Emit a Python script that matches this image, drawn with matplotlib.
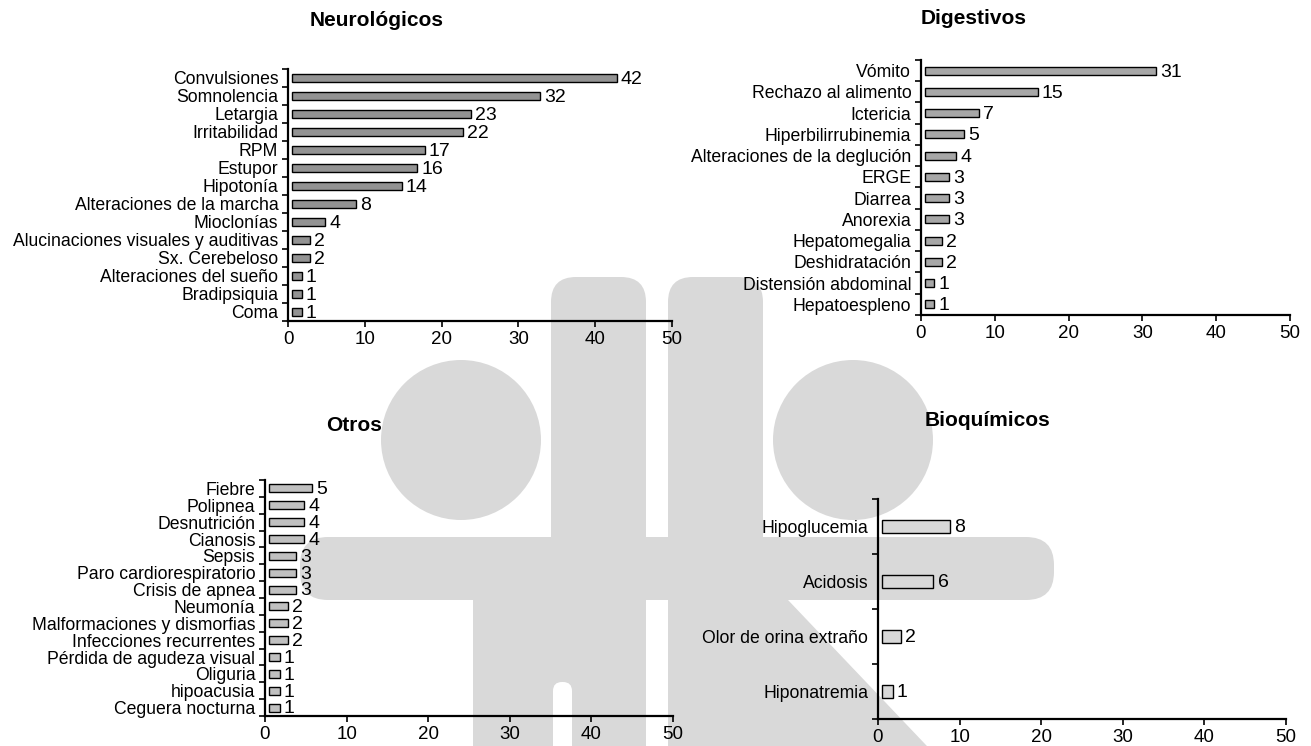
import numpy as np
import matplotlib
matplotlib.use('Agg')
import matplotlib.pyplot as plt
from matplotlib.patches import Ellipse, Rectangle, FancyBboxPatch, Polygon

plt.rcParams['font.family'] = ['Liberation Sans', 'DejaVu Sans']

W, H = 1311, 746

# data
neuro_labels = ['Convulsiones', 'Somnolencia', 'Letargia', 'Irritabilidad', 'RPM', 'Estupor',
                'Hipotonía', 'Alteraciones de la marcha', 'Mioclonías',
                'Alucinaciones visuales y auditivas', 'Sx. Cerebeloso',
                'Alteraciones del sueño', 'Bradipsiquia', 'Coma']
neuro_values = [42, 32, 23, 22, 17, 16, 14, 8, 4, 2, 2, 1, 1, 1]

dig_labels = ['Vómito', 'Rechazo al alimento', 'Ictericia', 'Hiperbilirrubinemia',
              'Alteraciones de la deglución', 'ERGE', 'Diarrea', 'Anorexia',
              'Hepatomegalia', 'Deshidratación', 'Distensión abdominal', 'Hepatoespleno']
dig_values = [31, 15, 7, 5, 4, 3, 3, 3, 2, 2, 1, 1]

otros_labels = ['Fiebre', 'Polipnea', 'Desnutrición', 'Cianosis', 'Sepsis',
                'Paro cardiorespiratorio', 'Crisis de apnea', 'Neumonía',
                'Malformaciones y dismorfias', 'Infecciones recurrentes',
                'Pérdida de agudeza visual', 'Oliguria', 'hipoacusia', 'Ceguera nocturna']
otros_values = [5, 4, 4, 4, 3, 3, 3, 2, 2, 2, 1, 1, 1, 1]

bio_labels = ['Hipoglucemia', 'Acidosis', 'Olor de orina extraño', 'Hiponatremia']
bio_values = [8, 6, 2, 1]

x_ticks = [0, 10, 20, 30, 40, 50]


def px_box(left, top, right, bottom):
    # pixel box (origin top-left) -> figure fraction rect
    return [left / W, 1 - bottom / H, (right - left) / W, (bottom - top) / H]


def fx(x):
    return x / W


def fy(y):
    return 1 - y / H


def rounded(left, top, right, bottom, r, **kw):
    # rounded box given in pixels
    return FancyBboxPatch((fx(left + r), fy(bottom - r)), (right - left - 2 * r) / W,
                          (bottom - top - 2 * r) / H,
                          boxstyle='round,pad=%f,rounding_size=%f' % (r / W, r / W),
                          mutation_aspect=W / H, **kw)


def draw_watermark(fig):
    grey = '#d9d9d9'
    kw = dict(transform=fig.transFigure, facecolor=grey, edgecolor='none', zorder=-1)
    # heads
    for cx in (461, 853):
        fig.patches.append(Ellipse((fx(cx), fy(440)), 160 / W, 160 / H, **kw))
    # bodies
    fig.patches.append(rounded(551, 277, 646, 800, 25, **kw))
    fig.patches.append(rounded(668, 277, 763, 800, 25, **kw))
    # arms band
    fig.patches.append(rounded(300, 537, 1054, 600, 28, **kw))
    # lower left block with slot
    fig.patches.append(Rectangle((fx(473), fy(780)), (646 - 473) / W, 180 / H, **kw))
    slot = dict(kw)
    slot['facecolor'] = 'white'
    fig.patches.append(rounded(553, 682, 572, 800, 9, **slot))
    # diagonal leg
    fig.patches.append(Polygon([(fx(668), fy(600)), (fx(788), fy(600)),
                                (fx(945), fy(765)), (fx(668), fy(765))], closed=True, **kw))


def draw_panel(fig, box, labels, values, color, bar_h, title, title_xy):
    ax = fig.add_axes(px_box(*box))
    ax.set_zorder(1)
    ax.patch.set_alpha(0)
    n = len(values)
    pos = np.arange(n)
    widths = np.array(values) + 0.3
    ax.barh(pos, widths, left=0.5, height=bar_h, color=color, edgecolor='black',
            linewidth=1.0, zorder=3)
    for p, w, v in zip(pos, widths, values):
        ax.annotate(str(v), (0.5 + w, p), xytext=(3, -1), textcoords='offset points',
                    va='center', ha='left', fontsize=14)
    ax.set_xlim(0, 50)
    ax.set_ylim(n - 0.5, -0.5)
    ax.set_xticks(x_ticks)
    ax.set_yticks(pos)
    ax.set_yticklabels(labels)
    ax.set_yticks(np.arange(n + 1) - 0.5, minor=True)
    ax.tick_params(axis='y', which='major', length=0, pad=7, labelsize=12.7)
    ax.tick_params(axis='y', which='minor', length=4, width=1.2, direction='out')
    ax.tick_params(axis='x', length=4, width=1.2, direction='out', pad=3, labelsize=13.5)
    for side in ('top', 'right'):
        ax.spines[side].set_visible(False)
    for side in ('left', 'bottom'):
        ax.spines[side].set_linewidth(1.6)
    fig.text(title_xy[0] / W, 1 - title_xy[1] / H, title, ha='center', va='center',
             fontsize=15, fontweight='bold')
    return ax


def main():
    fig = plt.figure(figsize=(W / 100, H / 100), dpi=100)
    draw_watermark(fig)

    draw_panel(fig, (288, 69, 672, 321), neuro_labels, neuro_values, '#939393', 0.42,
               'Neurológicos', (377, 20))
    draw_panel(fig, (921, 60, 1290, 315), dig_labels, dig_values, '#a7a7a7', 0.38,
               'Digestivos', (974, 18))
    draw_panel(fig, (265, 480, 673, 716), otros_labels, otros_values, '#c0c0c0', 0.48,
               'Otros', (354, 425))
    draw_panel(fig, (878, 499, 1286, 719), bio_labels, bio_values, '#d8d8d8', 0.24,
               'Bioquímicos', (987, 420))

    fig.savefig('out.png', dpi=100)


if __name__ == '__main__':
    main()
